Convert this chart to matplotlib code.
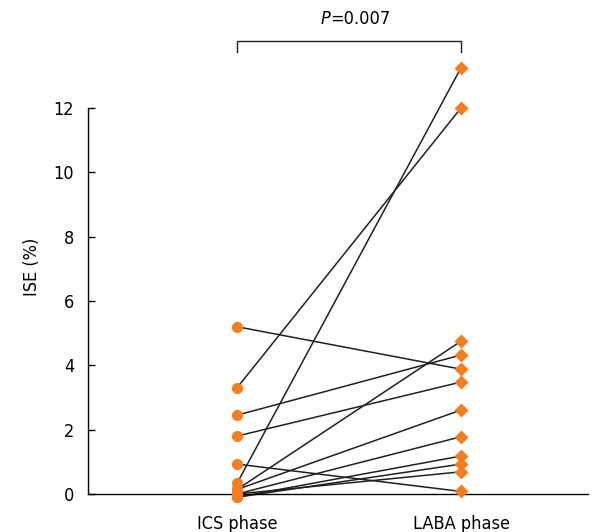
import matplotlib
matplotlib.use("Agg")
import matplotlib.pyplot as plt

plt.rcParams['font.family'] = ['DejaVu Sans']
plt.rcParams['font.stretch'] = 'condensed'

phases = ["ICS phase", "LABA phase"]
ics_values = [5.2, 3.3, 2.45, 1.8, 0.93, 0.33, 0.14, 0.14, 0.0, -0.1, -0.1, 0.0]
laba_values = [3.88, 12.0, 4.32, 3.48, 0.08, 13.25, 4.75, 2.61, 1.78, 1.18, 0.93, 0.69]
yticks = [0, 2, 4, 6, 8, 10, 12]
p_italic = "P"
p_rest = "=0.007"

orange = "#F47D20"

fig = plt.figure(figsize=(6.01, 5.32), dpi=100)
ax = fig.add_axes([88/601, 38/532, 500/601, 454/532])

for a, b in zip(ics_values, laba_values):
    ax.plot([0, 1], [a, b], color="#231f20", lw=1.1, zorder=2, clip_on=False)
ax.plot([0]*len(ics_values), ics_values, 'o', color=orange, ms=8, mec='none', zorder=3, clip_on=False)
ax.plot([1]*len(laba_values), laba_values, 'D', color=orange, ms=7, mec='none', zorder=3, clip_on=False)

ax.set_xlim(-(237-88)/224, 1 + 127/224)
ax.set_ylim(0, 454/32.17)
ax.set_xticks([0, 1])
ax.set_xticklabels(phases, fontsize=13)
ax.tick_params(axis='x', length=0, pad=15)
ax.set_yticks(yticks)
ax.set_yticklabels([str(t) for t in yticks], fontsize=13)
ax.tick_params(axis='y', length=5, width=1, pad=10, direction='in')
for s in ['top', 'right']:
    ax.spines[s].set_visible(False)
ax.spines['left'].set_bounds(0, 12)
ax.spines['left'].set_linewidth(1)
ax.spines['bottom'].set_linewidth(1)
ax.set_ylabel("ISE (%)", fontsize=13, labelpad=9)

# significance bracket
ytop = 14.08
ax.plot([0, 0, 1, 1], [13.75, ytop, ytop, 13.75], color="#231f20", lw=1, clip_on=False)
ax.text(0.415, 14.75, p_italic, ha='right', va='center', fontsize=13, style='italic', clip_on=False)
ax.text(0.415, 14.75, p_rest, ha='left', va='center', fontsize=13, clip_on=False)

fig.savefig("out.png", dpi=100)
